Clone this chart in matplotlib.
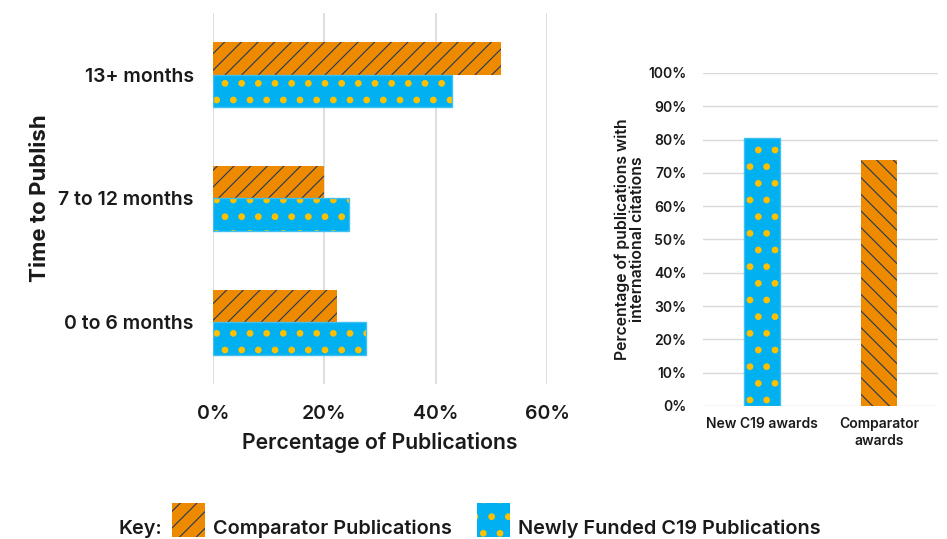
import matplotlib
matplotlib.use("Agg")
import matplotlib.pyplot as plt
from matplotlib.patches import Rectangle
import numpy as np

plt.rcParams['font.family'] = ['Roboto Medium', 'Inter', 'DejaVu Sans']

# ---- data ----
time_categories = ["0 to 6 months", "7 to 12 months", "13+ months"]
comparator_pubs = [0.222, 0.199, 0.517]
c19_pubs = [0.274, 0.244, 0.429]
left_xticks = [0.0, 0.2, 0.4, 0.6]
left_xticklabels = ["0%", "20%", "40%", "60%"]

award_categories = ["New C19 awards", "Comparator\nawards"]
intl_citation_share = [0.805, 0.739]
right_yticks = [i / 10 for i in range(11)]
right_yticklabels = [f"{i*10}%" for i in range(11)]

key_labels = ["Comparator Publications", "Newly Funded C19 Publications"]

ORANGE = "#EE8A00"
BLUE = "#00B0F0"
YELLOW = "#FFC000"
NAVY = "#27365E"
GRID = "#D9D9D9"
TXT = "#1A1A1A"
W = "semibold"
DOT_LW = 2.4
LINE_LW = 0.8

FW, FH = 947, 539
fig = plt.figure(figsize=(FW / 100, FH / 100), dpi=100)
fig.patch.set_facecolor("white")


def set_hlw(artists, lw):
    for a in artists:
        if hasattr(a, "set_hatch_linewidth"):
            a.set_hatch_linewidth(lw)
        else:
            a._hatch_linewidth = lw


# ---- left chart ----
axL = fig.add_axes([0.2249, 0.2876, 0.3527, 0.6883])
y = np.arange(len(time_categories))
h = 0.263
plt.rcParams['hatch.linewidth'] = LINE_LW
bc = axL.barh(y + h / 2, comparator_pubs, height=h, color=ORANGE,
              edgecolor=NAVY, hatch="//", linewidth=0, zorder=3)
set_hlw(bc, LINE_LW)
plt.rcParams['hatch.linewidth'] = DOT_LW
bn = axL.barh(y - h / 2, c19_pubs, height=h, color=BLUE,
              edgecolor=YELLOW, hatch=".", linewidth=0, zorder=3)
set_hlw(bn, DOT_LW)
axL.barh(y - h / 2, c19_pubs, height=h, color="none",
         edgecolor="#3FC0F2", linewidth=1.0, zorder=4)
axL.set_xlim(0, 0.6)
axL.set_ylim(-0.5, 2.5)
axL.set_xticks(left_xticks)
axL.set_xticklabels(left_xticklabels)
axL.set_yticks(y)
axL.set_yticklabels(time_categories)
axL.tick_params(axis="both", length=0, labelsize=14, colors=TXT)
axL.tick_params(axis="x", pad=15)
axL.tick_params(axis="y", pad=14)
for lab in axL.get_xticklabels() + axL.get_yticklabels():
    lab.set_fontweight(W)
axL.grid(axis="x", color=GRID, linewidth=1.2, zorder=0)
for s in axL.spines.values():
    s.set_visible(False)
axL.set_xlabel("Percentage of Publications", fontsize=15.3, fontweight=W, color=TXT)
axL.xaxis.set_label_coords(0.5, -0.13)
axL.set_ylabel("Time to Publish", fontsize=16, fontweight="bold", color=TXT)
axL.yaxis.set_label_coords(-0.488, 0.5)

# ---- right chart ----
axR = fig.add_axes([0.7424, 0.2468, 0.2481, 0.6178])
x = np.arange(len(award_categories))
w = 0.31
plt.rcParams['hatch.linewidth'] = DOT_LW
r1 = axR.bar(x[0], intl_citation_share[0], width=w, color=BLUE,
             edgecolor=YELLOW, hatch=".", linewidth=0, zorder=3)
set_hlw(r1, DOT_LW)
axR.bar(x[0], intl_citation_share[0], width=w, color="none",
        edgecolor="#3FC0F2", linewidth=1.0, zorder=4)
plt.rcParams['hatch.linewidth'] = LINE_LW
r2 = axR.bar(x[1], intl_citation_share[1], width=w, color=ORANGE,
             edgecolor=NAVY, hatch="\\\\", linewidth=0, zorder=3)
set_hlw(r2, LINE_LW)
axR.set_xlim(-0.5, 1.5)
axR.set_ylim(0, 1.0)
axR.set_yticks(right_yticks)
axR.set_yticklabels(right_yticklabels)
axR.set_xticks(x)
axR.set_xticklabels(award_categories, linespacing=1.3)
axR.tick_params(axis="both", length=0, labelsize=10, colors=TXT)
axR.tick_params(axis="y", pad=12)
axR.tick_params(axis="x", pad=8)
for lab in axR.get_xticklabels() + axR.get_yticklabels():
    lab.set_fontweight(W)
axR.grid(axis="y", color=GRID, linewidth=1.0, zorder=0)
for s in axR.spines.values():
    s.set_visible(False)
axR.set_ylabel("Percentage of publications with\ninternational citations",
               fontsize=11.4, fontweight=W, color=TXT, linespacing=1.0)
axR.yaxis.set_label_coords(-0.247, 0.5)

# ---- key (drawn in figure pixel space) ----
def fx(px):
    return px / FW


def fy(py):
    return 1 - py / FH


baseline = 534
fig.text(fx(118), fy(baseline), "Key:", fontsize=14.3, fontweight=W, color=TXT,
         ha="left", va="baseline")
key_styles = [
    dict(facecolor=ORANGE, edgecolor=NAVY, hatch="//", lw=LINE_LW),
    dict(facecolor=BLUE, edgecolor=YELLOW, hatch=".", lw=DOT_LW),
]
key_x = [172, 477]
for kx, lab, st in zip(key_x, key_labels, key_styles):
    plt.rcParams['hatch.linewidth'] = st["lw"]
    r = Rectangle((fx(kx), fy(537)), fx(33), 34 / FH, transform=fig.transFigure,
                  facecolor=st["facecolor"], edgecolor=st["edgecolor"],
                  hatch=st["hatch"], linewidth=0)
    set_hlw([r], st["lw"])
    fig.add_artist(r)
    fig.text(fx(kx + 41), fy(baseline), lab, fontsize=14.3, fontweight=W,
             color=TXT, ha="left", va="baseline")
plt.rcParams['hatch.linewidth'] = LINE_LW

fig.savefig("out.png", dpi=100, facecolor="white")
